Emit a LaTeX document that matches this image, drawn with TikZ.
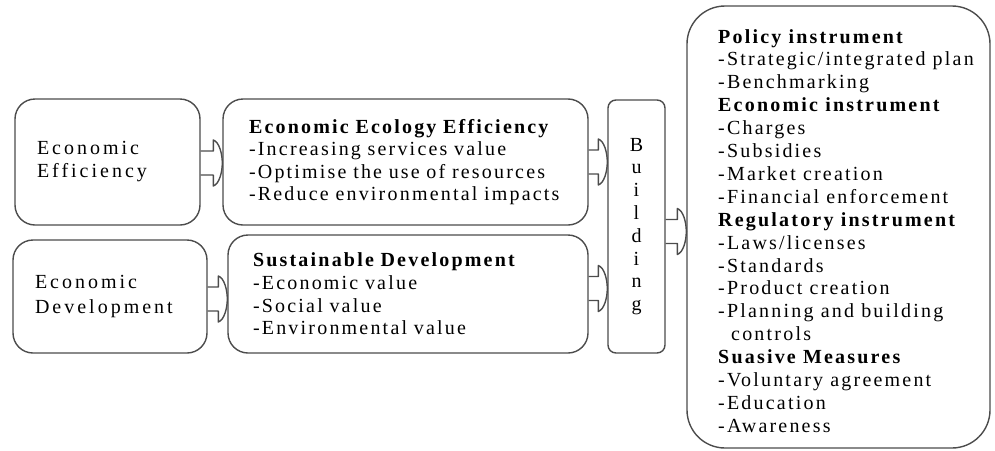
\documentclass[tikz,border=0pt]{standalone}
\usepackage{fontspec}
\setmainfont{Liberation Serif}[LetterSpace=11]
\usetikzlibrary{calc}
\definecolor{linegray}{gray}{0.30}
\tikzset{
  box/.style={draw=linegray, line width=1.4pt, rounded corners=20pt, fill=white,
              inner ysep=0pt, align=left},
  boxtext/.style={font=\fontsize{20}{22.6}\selectfont},
  widetext/.style={font=\fontsize{20}{#1}\selectfont\addfontfeature{LetterSpace=15}},
  arrowline/.style={draw=linegray, line width=1.4pt, line join=round},
}
% hollow block arrow from the east side of #2 to the west side of #3,
% its axis shifted #1 below the centre of #2
\newcommand\blockarrow[3][0]{%
  \draw[arrowline] let \p1=($(#2.east)+(0,#1)$), \p2=(#3.west) in
    (\x1,\y1+12pt) -- ({\x2-9pt},\y1+12pt) -- ({\x2-9pt},\y1+23pt)
    .. controls ({\x2-3pt},\y1+21pt) and (\x2,\y1+9pt) .. (\x2,\y1)
    .. controls (\x2,\y1-9pt) and ({\x2-3pt},\y1-21pt) .. ({\x2-9pt},\y1-23pt)
    -- ({\x2-9pt},\y1-12pt) -- (\x1,\y1-12pt);
}
\begin{document}
\begin{tikzpicture}[x=1pt,y=-1pt]
\useasboundingbox (0,0) rectangle (995,450);

% left column
\node[box, widetext=23, minimum height=126pt, text width=141pt, inner xsep=22pt]
  (eff) at (107.5,162) {Economic\\Efficiency};
\node[box, widetext=25, minimum height=113pt, text width=150pt, inner xsep=22pt]
  (dev) at (110,296.5) {Economic\\Development};

% middle column
\node[box, boxtext, minimum height=126pt, text width=313pt, inner xsep=26pt] (eco) at (405.5,162)
  {\textbf{Economic Ecology Efficiency}\\-Increasing services value\\-Optimise the use of resources\\-Reduce environmental impacts};
\node[box, boxtext, minimum height=118pt, text width=310pt, inner xsep=25pt] (sus) at (408,294)
  {\textbf{Sustainable Development}\\-Economic value\\-Social value\\-Environmental value};

% vertical label box
\node[box, rounded corners=8pt, minimum width=57pt, minimum height=253pt,
      inner sep=0pt, align=center, font=\fontsize{20}{22.8}\selectfont] (bld) at (636.5,226.5)
  {B\\u\\i\\l\\d\\i\\n\\g};

% instrument box
\node[box, rounded corners=38pt, minimum width=303pt, minimum height=442pt] (inst) at (838.5,227) {};
\node[anchor=north west, align=left, inner sep=0pt, font=\fontsize{20}{22.9}\selectfont] (insttext) at (718,29)
  {\textbf{Policy instrument}\\
   -Strategic/integrated plan\\
   -Benchmarking\\
   \textbf{Economic instrument}\\
   -Charges\\
   -Subsidies\\
   -Market creation\\
   -Financial enforcement\\
   \textbf{Regulatory instrument}\\
   -Laws/licenses\\
   -Standards\\
   -Product creation\\
   -Planning and building\\
   \hspace*{13pt}controls\\
   \textbf{Suasive Measures}\\
   -Voluntary agreement\\
   -Education\\
   -Awareness};

% connectors
\blockarrow[1]{eff}{eco}
\blockarrow[2.5]{dev}{sus}
\blockarrow[0]{eco}{bld}
\blockarrow[-5.5]{sus}{bld}
\blockarrow[5]{bld}{inst}
\end{tikzpicture}
\end{document}
